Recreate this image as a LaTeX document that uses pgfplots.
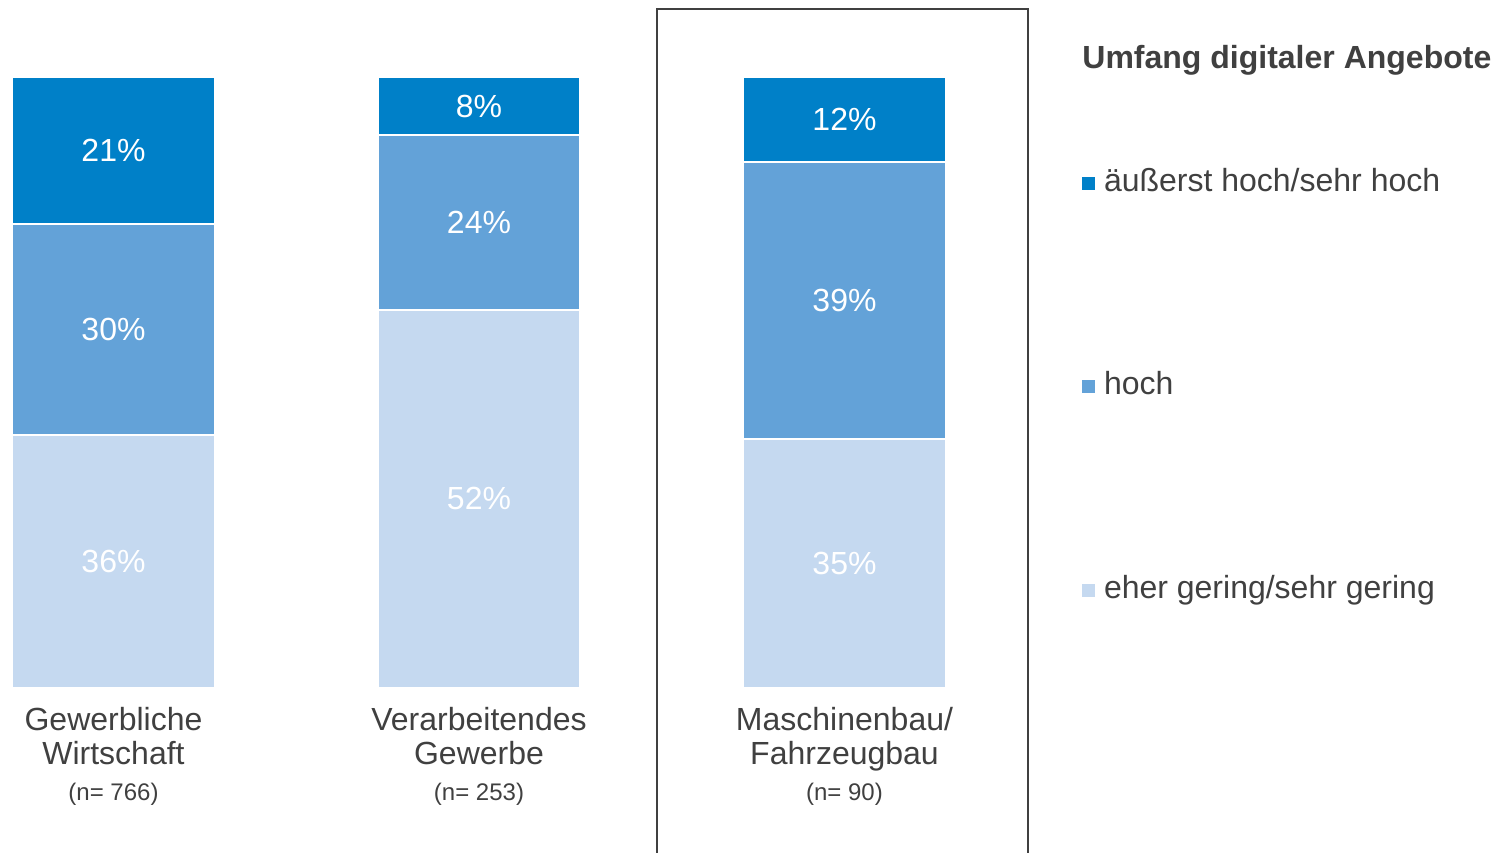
\documentclass[border=0pt]{standalone}
\usepackage{pgfplots}
\pgfplotsset{compat=1.18}
\usepackage{pgfplotstable}
\usepackage{fontspec}
\setmainfont{Liberation Sans}
\definecolor{cdark}{HTML}{0080C8}
\definecolor{cmid}{HTML}{63A2D8}
\definecolor{clight}{HTML}{C5D9F0}
\definecolor{ctext}{HTML}{404040}
% shares normalised to 100 (bars are drawn to equal height); labels = reported %
\pgfplotstableread{
x low lowl mid midl high highl
0 41.38 36 34.48 30 24.14 21
1 61.90 52 28.57 24 9.52 8
2 40.70 35 45.35 39 13.95 12
}\data
% centres of the segments (for the value labels)
\pgfplotstableread{
x lowc lowl midc midl highc highl
0 20.69 36 58.62 30 87.93 21
1 30.95 52 76.19 24 95.24 8
2 20.35 35 63.38 39 93.03 12
}\labels
\pgfplotsset{common/.style={
  at={(0pt,82pt)}, anchor=south west,
  scale only axis, width=513.625pt, height=305.5pt,
  xmin=-0.31053, xmax=2.5, ymin=0, ymax=100, clip=false}}
\begin{document}
\begin{tikzpicture}
\path[use as bounding box] (0,0) rectangle (747pt,426pt);
\begin{axis}[
  common,
  ybar stacked, bar width=0.555,
  axis line style={draw=none}, tick style={draw=none},
  ytick=\empty, xtick={0,1,2},
  xticklabels={
    {Gewerbliche\\Wirtschaft\\[1pt]{\fontsize{12}{14}\selectfont (n= 766)}},
    {Verarbeitendes\\Gewerbe\\[1pt]{\fontsize{12}{14}\selectfont (n= 253)}},
    {Maschinenbau/\\Fahrzeugbau\\[1pt]{\fontsize{12}{14}\selectfont (n= 90)}}},
  xticklabel style={align=center, text=ctext, inner sep=0pt, font=\fontsize{16}{17}\selectfont},
  xticklabel shift=9.5pt,
  reverse legend,
  legend image code/.code={\fill[#1,draw=none] (0pt,-3.25pt) rectangle (6.5pt,3.25pt);},
  legend style={at={(1.0533,0.4927)}, anchor=west, draw=none, fill=none, inner sep=0pt, outer sep=0pt,
    row sep=86.75pt, column sep=4.5pt,
    nodes={inner sep=0pt, text height=11.5pt, text depth=3.5pt, text=ctext},
    font=\fontsize{16}{16}\selectfont},
  legend cell align=left,
]
\addplot[fill=clight, draw=white, line width=1pt] table[x=x,y=low]{\data};
\addlegendentry{eher gering/sehr gering}
\addplot[fill=cmid, draw=white, line width=1pt] table[x=x,y=mid]{\data};
\addlegendentry{hoch}
\addplot[fill=cdark, draw=white, line width=1pt] table[x=x,y=high]{\data};
\addlegendentry{äußerst hoch/sehr hoch}
\end{axis}
\begin{axis}[
  common, hide axis,
  point meta=explicit symbolic,
  nodes near coords={\pgfplotspointmeta\%},
  every node near coord/.style={anchor=center, inner sep=0pt, text=white, font=\fontsize{16}{16}\selectfont},
]
\addplot[draw=none, mark=none] table[x=x,y=lowc,meta=lowl]{\labels};
\addplot[draw=none, mark=none] table[x=x,y=midc,meta=midl]{\labels};
\addplot[draw=none, mark=none] table[x=x,y=highc,meta=highl]{\labels};
\end{axis}
\node[anchor=base west, inner sep=0pt, text=ctext, font=\bfseries\fontsize{16}{16}\selectfont] at (541pt,391.5pt) {Umfang digitaler Angebote};
\draw[line width=1pt, draw=ctext] (328.25pt,-5pt) -- (328.25pt,421.25pt) -- (513.75pt,421.25pt) -- (513.75pt,-5pt);
\end{tikzpicture}
\end{document}
